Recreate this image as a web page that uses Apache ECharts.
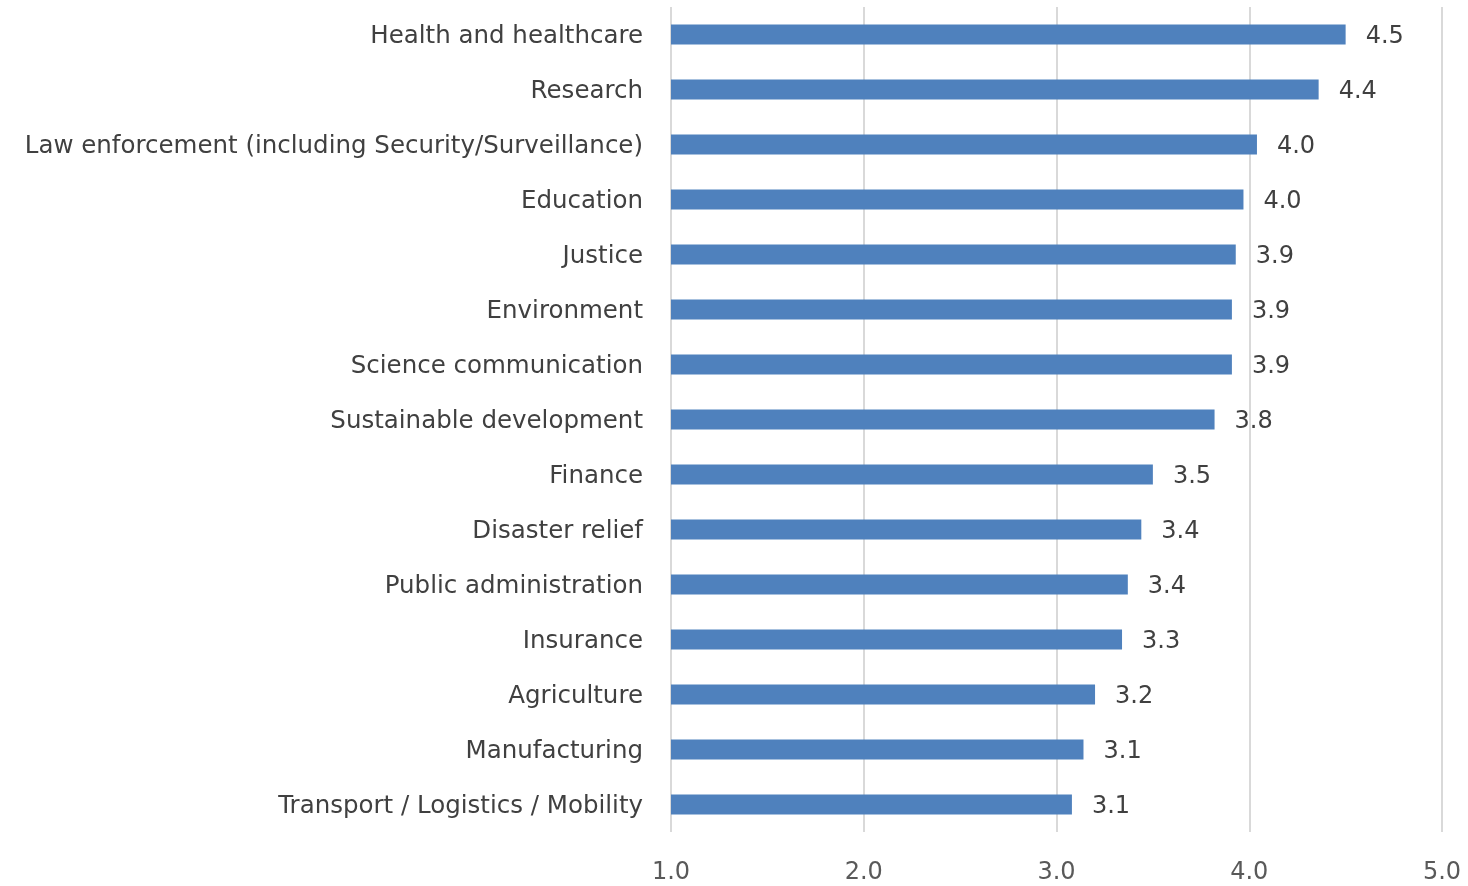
<!DOCTYPE html>
<html><head><meta charset="utf-8">
<script src="https://cdn.jsdelivr.net/npm/echarts@6/dist/echarts.min.js"></script>
<style>html,body{margin:0;padding:0;background:#fff}#c{width:1468px;height:886px}</style>
</head><body><div id="c"></div>
<script>
const categories = [
  "Health and healthcare",
  "Research",
  "Law enforcement (including Security/Surveillance)",
  "Education",
  "Justice",
  "Environment",
  "Science communication",
  "Sustainable development",
  "Finance",
  "Disaster relief",
  "Public administration",
  "Insurance",
  "Agriculture",
  "Manufacturing",
  "Transport / Logistics / Mobility"
];
const values = [4.50, 4.36, 4.04, 3.97, 3.93, 3.91, 3.91, 3.82, 3.50, 3.44, 3.37, 3.34, 3.20, 3.14, 3.08];
const ticks = [1.0, 2.0, 3.0, 4.0, 5.0];

const chart = echarts.init(document.getElementById('c'));
const FONT = '"DejaVu Sans", sans-serif';
chart.setOption({
  animation: false,
  grid: { left: 671, right: 26, top: 7, bottom: 54, containLabel: false },
  xAxis: {
    type: 'value', min: ticks[0], max: ticks[ticks.length - 1], interval: 1,
    axisLine: { show: false }, axisTick: { show: false },
    splitLine: { show: true, lineStyle: { color: '#d9d9d9', width: 2 } },
    axisLabel: { formatter: v => v.toFixed(1), color: '#595959', fontSize: 24, fontFamily: FONT, margin: 29 }
  },
  yAxis: {
    type: 'category', data: categories, inverse: true,
    axisLine: { show: false }, axisTick: { show: false },
    axisLabel: { color: '#404040', fontSize: 24.5, fontFamily: FONT, margin: 28,
      formatter: v => '{a|' + v + '}',
      rich: { a: { color: '#404040', fontSize: 24.5, fontFamily: FONT, padding: [5, 0, 0, 0] } } }
  },
  series: [{
    type: 'bar', data: values, barWidth: 20,
    itemStyle: { color: '#4f81bd' },
    label: { show: true, position: 'right', distance: 20, color: '#404040', fontSize: 24, fontFamily: FONT,
      offset: [0, 2], formatter: p => p.value.toFixed(1) }
  }]
});
</script></body></html>
